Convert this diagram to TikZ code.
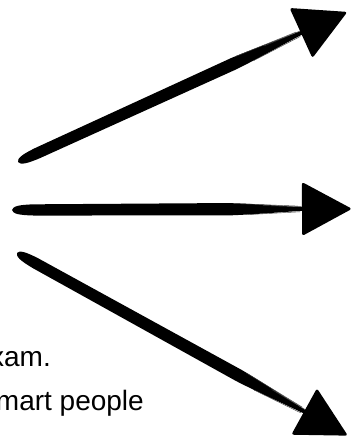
\documentclass[tikz,border=0pt]{standalone}
\usepackage{fontspec}
\setmainfont{Liberation Sans}
\newcommand{\brushArrow}[7]{%
  % #1 name, #2 x, #3 y, #4 angle, #5 shaft length, #6 half base, #7 head height
  \begin{scope}[shift={(#2,#3)},rotate=#4]
    \coordinate (#1tail) at (0,0);
    \coordinate (#1base) at (#5,0);
    \coordinate (#1tip) at ({#5+#7},0);
    \fill[ink] (#1tail) .. controls (1,3.6) and (6,5.2) .. (22,5.6)
      -- ({#5-75},6.2) .. controls ({#5-45},5.2) and ({#5-18},2.6) .. ({#5+2},1.8)
      -- ({#5+2},-1.8) .. controls ({#5-18},-2.6) and ({#5-45},-5.2) .. ({#5-75},-6.2)
      -- (22,-5.6) .. controls (6,-5.2) and (1,-3.6) .. (#1tail) -- cycle;
    \draw[streak] ({#5-70},5.8) -- ({#5-5},2.9);
    \draw[streak] ({#5-55},-5.4) -- ({#5-3},-2.8);
    \draw[streak] ({#5-40},3.6) -- ({#5},2.2);
    \fill[ink,rounded corners=2.5pt] ({#5-1},#6) -- (#1tip) -- ({#5-1},-#6) -- cycle;
  \end{scope}}
\tikzset{
  ink/.style={fill=black},
  streak/.style={draw=black!75,line width=0.45pt},
  txt/.style={anchor=base east,inner sep=0pt,font=\fontsize{28}{34}\selectfont}
}
\begin{document}
\begin{tikzpicture}[x=1pt,y=1pt]
  \useasboundingbox (0,0) rectangle (352,440);
  \fill[white] (0,0) rectangle (352,440);
  \brushArrow{a}{18}{278}{24.5}{312}{27.5}{50}
  \brushArrow{b}{12}{230}{0.2}{291}{27}{49}
  \brushArrow{c}{17}{187}{-28.9}{329}{26.5}{49}
  \node[txt] (l1) at (51,73) {xam.};
  \node[txt] (l2) at (144,30) {mart people};
\end{tikzpicture}
\end{document}
